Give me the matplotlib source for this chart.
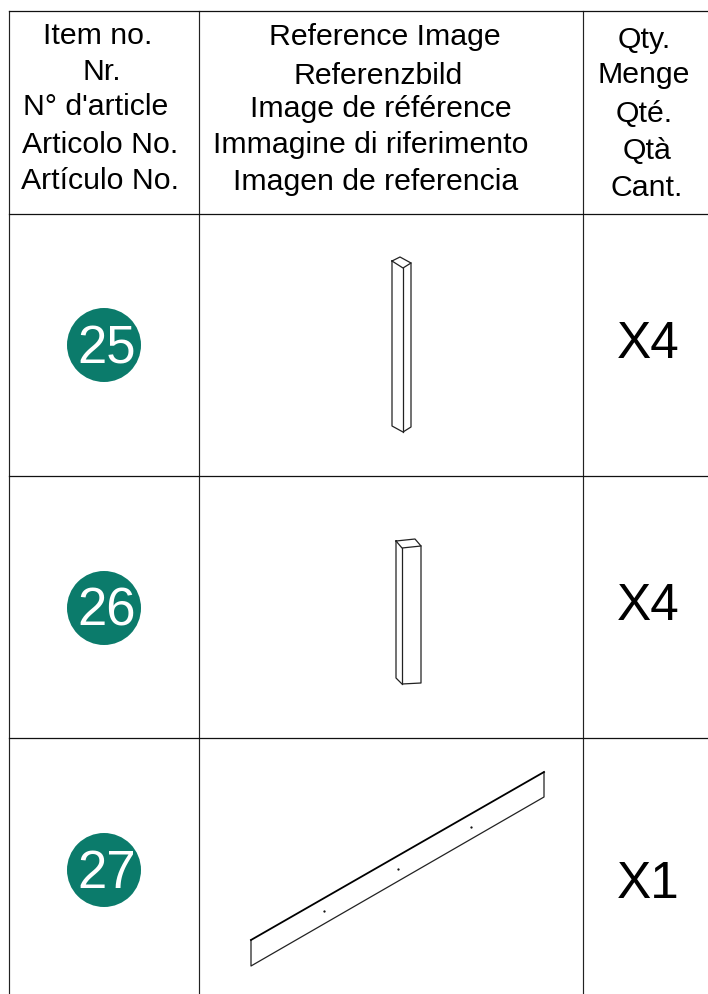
import matplotlib
matplotlib.use('Agg')
import matplotlib.pyplot as plt
from matplotlib.patches import Circle

# table lines, in image pixels
col_lines = [8.5, 199, 583]
row_lines = [11, 213.7, 476, 738]

item_header = ['Item no.', 'Nr.', "N° d'article", 'Articolo No.', 'Artículo No.']
item_header_x = [98, 102, 96, 100, 100]
item_header_y = [36, 72, 107, 145, 181]

image_header = ['Reference Image', 'Referenzbild', 'Image de référence',
                'Immagine di riferimento', 'Imagen de referencia']
image_header_x = [384.5, 378, 381, 371, 376]
image_header_y = [37, 76, 109, 145, 182]

qty_header = ['Qty.', 'Menge', 'Qté.', 'Qtà', 'Cant.']
qty_header_x = [644, 644, 644, 647, 647]
qty_header_y = [40, 75, 114, 151, 188]

items = ['25', '26', '27']
item_x = [106.5, 106.5, 106.5]
item_y = [349, 612, 874]
quantities = ['X4', 'X4', 'X1']
qty_x = [648, 648, 648]
qty_y = [344, 607, 885]

circle_x = [104, 104, 104]
circle_y = [345, 608, 870]

# line drawings of the parts
post_25 = [
    ([392, 400, 411, 403, 392], [261, 257, 263, 268, 261]),
    ([392, 392, 403, 411, 411], [261, 426, 432, 427, 263]),
    ([403, 403], [268, 432]),
]
post_26 = [
    ([396, 415, 421, 402, 396], [541, 539, 546, 548, 541]),
    ([396, 396, 402, 421, 421], [541, 678, 684, 683, 546]),
    ([402, 402], [548, 684]),
]
board_27 = [
    ([544, 544, 251, 251], [772, 797, 966, 940]),
]
board_top_x = [251, 544]
board_top_y = [940, 772]
board_holes_x = [324, 398, 471]
board_holes_y = [911, 869, 827]

teal = '#0b7b6b'
font = 'Liberation Sans'


def draw_table(ax):
    for x in col_lines:
        ax.plot([x, x], [row_lines[0], 994], color='#222222', lw=0.85)
    for y in row_lines:
        ax.plot([col_lines[0], 708], [y, y], color='#111111', lw=0.9)


def draw_header(ax, labels, xs, ys):
    for label, x, y in zip(labels, xs, ys):
        ax.text(x, y, label, ha='center', va='center', fontsize=21.8,
                family=font, color='black')


def draw_part(ax, segments, lw=0.9):
    for xs, ys in segments:
        ax.plot(xs, ys, color='#222222', lw=lw, solid_joinstyle='round')


def main():
    fig = plt.figure(figsize=(7.08, 9.94), dpi=100)
    ax = fig.add_axes([0, 0, 1, 1])
    ax.set_xlim(0, 708)
    ax.set_ylim(994, 0)
    ax.axis('off')

    draw_table(ax)
    draw_header(ax, item_header, item_header_x, item_header_y)
    draw_header(ax, image_header, image_header_x, image_header_y)
    draw_header(ax, qty_header, qty_header_x, qty_header_y)

    for x, y in zip(circle_x, circle_y):
        ax.add_patch(Circle((x, y), 37, color=teal, lw=0))
    for item, x, y in zip(items, item_x, item_y):
        ax.text(x, y, item, ha='center', va='center', fontsize=38,
                family=font, color='white')

    for qty, x, y in zip(quantities, qty_x, qty_y):
        ax.text(x, y, qty, ha='center', va='center', fontsize=37,
                family=font, color='black')

    draw_part(ax, post_25)
    draw_part(ax, post_26)
    draw_part(ax, board_27)
    ax.plot(board_top_x, board_top_y, color='black', lw=1.3)
    ax.plot(board_holes_x, board_holes_y, ls='none', marker='.', ms=1.2, color='black')

    fig.savefig('out.png', dpi=100, facecolor='white')


if __name__ == '__main__':
    main()
